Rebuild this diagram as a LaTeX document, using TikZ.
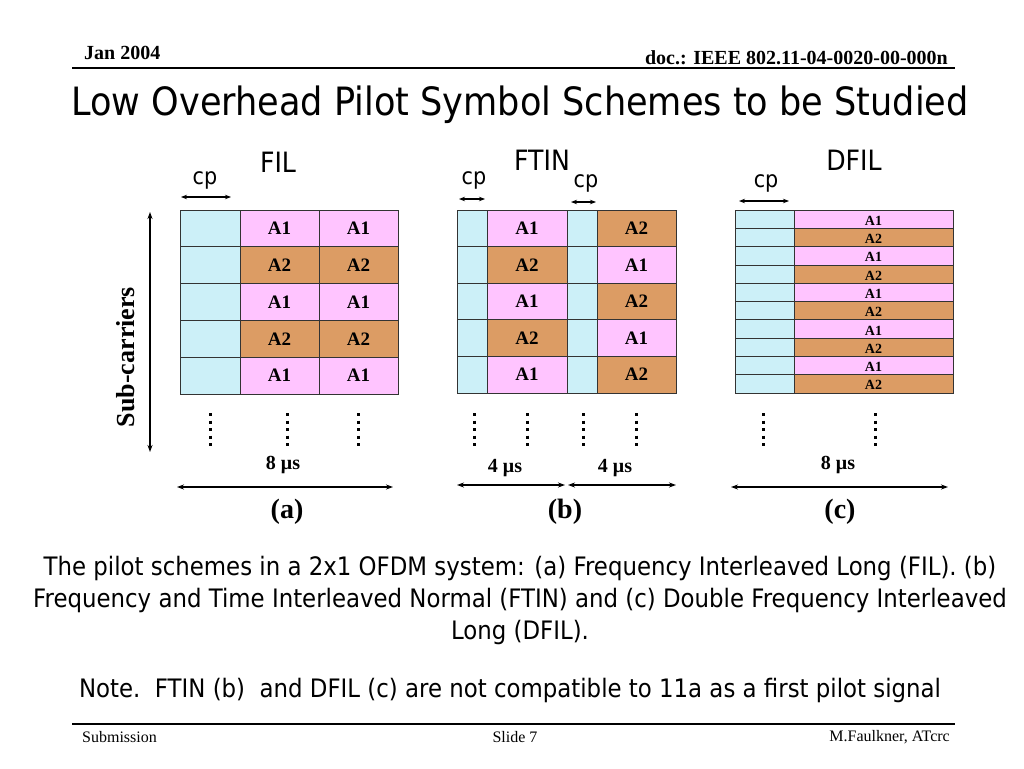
\documentclass[tikz,border=0pt]{standalone}
\usepackage{fontspec}
\setmainfont{Liberation Serif}
\newfontfamily\tah[FakeStretch=0.9]{DejaVu Sans}
\usetikzlibrary{arrows.meta}
\definecolor{cpc}{RGB}{204,240,248}
\definecolor{pinkc}{RGB}{255,196,255}
\definecolor{brownc}{RGB}{220,156,100}
\tikzset{
  cell/.style={draw=black!80, line width=0.8pt, inner sep=0pt, outer sep=0pt, anchor=center, font=\fontsize{19}{19}\bfseries\selectfont},
  A1/.style={fill=pinkc},
  A2/.style={fill=brownc},
  CP/.style={fill=cpc},
  dcell/.style={cell, font=\fontsize{13}{13}\bfseries\selectfont},
  darr/.style={{Stealth[length=7pt,width=5pt]}-{Stealth[length=7pt,width=5pt]}, line width=1.3pt},
  carr/.style={{Stealth[length=6pt,width=4.5pt]}-{Stealth[length=6pt,width=4.5pt]}, line width=1.1pt},
  dotl/.style={line width=3pt, dash pattern=on 3pt off 4.5pt},
  lab/.style={inner sep=0pt, font=\fontsize{20}{20}\bfseries\selectfont},
  sub/.style={inner sep=0pt, font=\fontsize{26}{26}\bfseries\selectfont},
  cptxt/.style={inner sep=0pt, font=\tah\fontsize{23}{23}\selectfont},
  head/.style={inner sep=0pt, font=\tah\fontsize{28}{28}\selectfont},
}
\begin{document}
\begin{tikzpicture}[x=1pt,y=-1pt]
\useasboundingbox[fill=white] (0,0) rectangle (1024,768);

% header / footer
\node[inner sep=0pt, anchor=west, font=\fontsize{20}{20}\bfseries\selectfont] (date) at (84,53) {Jan 2004};
\node[inner sep=0pt, anchor=east, font=\fontsize{20}{20}\bfseries\selectfont] (doc) at (948,58) {doc.: IEEE 802.11-04-0020-00-000n};
\coordinate (hl1) at (72,68); \coordinate (hl2) at (955,68);
\draw[line width=1.5pt] (hl1) -- (hl2);
\node[inner sep=0pt, font=\tah\fontsize{39}{39}\selectfont] (title) at (520,105) {Low Overhead Pilot Symbol Schemes to be Studied};
\coordinate (fl1) at (72,724); \coordinate (fl2) at (955,724);
\draw[line width=1.5pt] (fl1) -- (fl2);
\node[inner sep=0pt, anchor=west, font=\fontsize{16}{16}\selectfont] (subm) at (82,737) {Submission};
\node[inner sep=0pt, font=\fontsize{16}{16}\selectfont] (slide) at (515,737) {Slide 7};
\node[inner sep=0pt, anchor=east, font=\fontsize{16}{16}\selectfont] (auth) at (950,737) {M.Faulkner, ATcrc};

% ---------- FIL ----------
\node[head] (filh) at (278,162) {FIL};
\node[cptxt] (filcp) at (205,180) {cp};
\coordinate (filcpa) at (181,197); \coordinate (filcpb) at (231,197);
\draw[carr] (filcpa) -- (filcpb);
\foreach \r/\a in {1/A1,2/A2,3/A1,4/A2,5/A1} {
  \pgfmathsetmacro\yc{210+36.8*(\r-0.5)}
  \node[cell,CP,minimum width=60pt,minimum height=36.8pt] (fil-cp-\r) at (210,\yc) {};
  \node[cell,\a,minimum width=79pt,minimum height=36.8pt] (fil-b-\r) at (279.5,\yc) {\a};
  \node[cell,\a,minimum width=79pt,minimum height=36.8pt] (fil-c-\r) at (358.5,\yc) {\a};
}
\foreach \x [count=\i] in {210,287,358} {
  \coordinate (fd\i a) at (\x,413); \coordinate (fd\i b) at (\x,446);
  \draw[dotl] (fd\i a) -- (fd\i b);
}
\coordinate (sca) at (150,212); \coordinate (scb) at (150,452);
\draw[darr] (sca) -- (scb);
\node[sub, rotate=90] (subc) at (126,357) {Sub-carriers};
\node[lab] (fil8) at (283,465) {8 μs};
\coordinate (fila) at (177,487); \coordinate (filb) at (393,487);
\draw[darr] (fila) -- (filb);
\node[sub, font=\fontsize{28}{28}\bfseries\selectfont] (capa) at (287,512) {(a)};

% ---------- FTIN ----------
\node[head] (ftinh) at (542,160) {FTIN};
\node[cptxt] (ftcp1) at (474,180) {cp};
\node[cptxt] (ftcp2) at (586,183) {cp};
\coordinate (ftc1a) at (459,199); \coordinate (ftc1b) at (485,199);
\draw[carr] (ftc1a) -- (ftc1b);
\coordinate (ftc2a) at (571,202); \coordinate (ftc2b) at (596,202);
\draw[carr] (ftc2a) -- (ftc2b);
\foreach \r/\a/\b in {1/A1/A2,2/A2/A1,3/A1/A2,4/A2/A1,5/A1/A2} {
  \pgfmathsetmacro\yc{210+36.6*(\r-0.5)}
  \node[cell,CP,minimum width=30pt,minimum height=36.6pt] (ft-cp1-\r) at (472,\yc) {};
  \node[cell,\a,minimum width=80pt,minimum height=36.6pt] (ft-b-\r) at (527,\yc) {\a};
  \node[cell,CP,minimum width=30pt,minimum height=36.6pt] (ft-cp2-\r) at (582,\yc) {};
  \node[cell,\b,minimum width=79pt,minimum height=36.6pt] (ft-c-\r) at (636.5,\yc) {\b};
}
\foreach \x [count=\i] in {474,527,583,636} {
  \coordinate (td\i a) at (\x,413); \coordinate (td\i b) at (\x,446);
  \draw[dotl] (td\i a) -- (td\i b);
}
\node[lab] (ft4a) at (505,468) {4 μs};
\node[lab] (ft4b) at (615,468) {4 μs};
\coordinate (fta1) at (457,485); \coordinate (fta2) at (565,485);
\draw[darr] (fta1) -- (fta2);
\coordinate (ftb1) at (568,485); \coordinate (ftb2) at (676,485);
\draw[darr] (ftb1) -- (ftb2);
\node[sub, font=\fontsize{28}{28}\bfseries\selectfont] (capb) at (565,512) {(b)};

% ---------- DFIL ----------
\node[head] (dfilh) at (854,160) {DFIL};
\node[cptxt] (dfcp) at (766,183) {cp};
\coordinate (dfca) at (739,201); \coordinate (dfcb) at (789,201);
\draw[carr] (dfca) -- (dfcb);
\foreach \r/\a in {1/A1,2/A2,3/A1,4/A2,5/A1,6/A2,7/A1,8/A2,9/A1,10/A2} {
  \pgfmathsetmacro\yc{210+18.3*(\r-0.5)}
  \node[dcell,CP,minimum width=59pt,minimum height=18.3pt] (df-cp-\r) at (764.5,\yc) {};
  \node[dcell,\a,minimum width=159pt,minimum height=18.3pt] (df-b-\r) at (873.5,\yc) {};
  \node[inner sep=0pt, font=\fontsize{14}{14}\bfseries\selectfont] (df-t-\r) at (873.5,\yc+1.5) {\a};
}
\foreach \x [count=\i] in {763,875} {
  \coordinate (dd\i a) at (\x,413); \coordinate (dd\i b) at (\x,446);
  \draw[dotl] (dd\i a) -- (dd\i b);
}
\node[lab] (df8) at (838,465) {8 μs};
\coordinate (dfa) at (731,487); \coordinate (dfb) at (948,487);
\draw[darr] (dfa) -- (dfb);
\node[sub, font=\fontsize{28}{28}\bfseries\selectfont] (capc) at (840,512) {(c)};

% ---------- captions ----------
\node[inner sep=0pt, align=center, font=\tah\fontsize{25.4}{32}\selectfont] (cap) at (520,600)
 {The pilot schemes in a 2x1 OFDM system: (a) Frequency Interleaved Long (FIL). (b)\\
  Frequency and Time Interleaved Normal (FTIN) and (c) Double Frequency Interleaved\\
  Long (DFIL).};
\node[inner sep=0pt, font=\tah\fontsize{25.4}{25.4}\selectfont] (note) at (510,690)
 {Note.\ \ FTIN (b)\ \ and DFIL (c) are not compatible to 11a as a first pilot signal};
\end{tikzpicture}
\end{document}
